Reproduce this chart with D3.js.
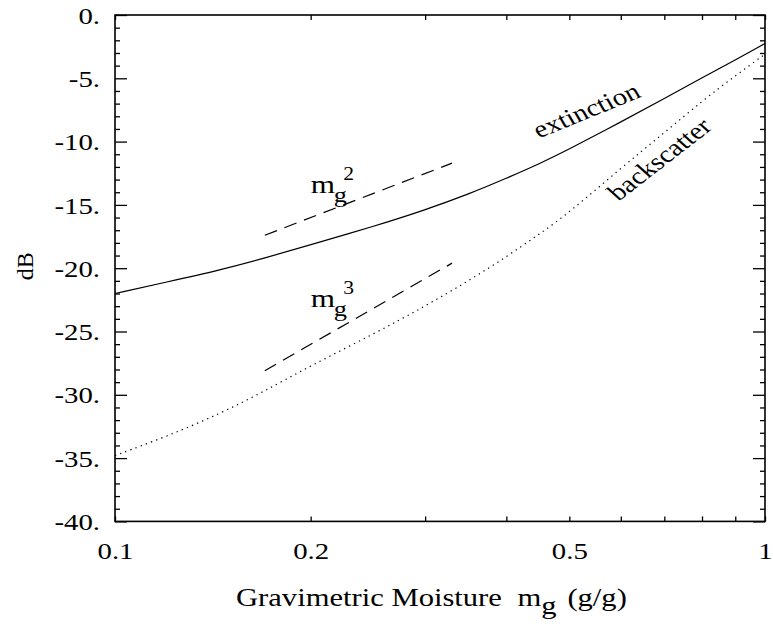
<!DOCTYPE html>
<html>
<head>
<meta charset="utf-8" />
<title>Extinction and backscatter vs moisture</title>
<style>
    body { margin: 0; background: #fff; }
    svg text { font-family: "Liberation Serif", "Times New Roman", serif; fill: #000; }
</style>
</head>
<body>
    <div id="container"></div>
<script src="https://cdn.jsdelivr.net/npm/d3@7"></script>
<script>
    // values
    const moisture = [0.1, 0.12, 0.145, 0.17, 0.2, 0.25, 0.3, 0.35, 0.4, 0.45, 0.5, 0.6, 0.7, 0.8, 0.9, 1.0]
    const extinction = [-22.0, -21.1, -20.15, -19.2, -18.15, -16.7, -15.4, -14.15, -12.9, -11.75, -10.6, -8.45, -6.6, -4.95, -3.55, -2.25]
    const backscatter = [-34.8, -33.3, -31.5, -29.7, -27.7, -25.2, -23.0, -21.0, -19.1, -17.3, -15.6, -12.1, -9.3, -6.8, -4.8, -3.1]

    // reference slopes (endpoints)
    const slope2 = [[0.17, -17.4], [0.33, -11.7]]
    const slope3 = [[0.17, -28.1], [0.33, -19.6]]

    const yMajor = [0, -5, -10, -15, -20, -25, -30, -35, -40]
    const xMajor = [0.1, 0.2, 0.5, 1]
    const xMinor = [0.3, 0.4, 0.6, 0.7, 0.8, 0.9]

    const margin = { top: 15, right: 8, bottom: 104.6, left: 115 }
    const width = 773 - margin.left - margin.right
    const height = 626 - margin.top - margin.bottom
    const sx = 1.2 // the original text is drawn a little wide

    let svg = d3.select('#container').append('svg').attr('width', 773).attr('height', 626)
    let chart = svg.append('g').attr('transform', `translate(${margin.left}, ${margin.top})`)

    let x = d3.scaleLog().domain([0.1, 1]).range([0, width])
    let y = d3.scaleLinear().domain([-40, 0]).range([height, 0])
    let yMinor = d3.range(-39, 0).filter(d => d % 5 !== 0)

    const fmtY = d => d + '.'
    const fmtX = d => d3.format('')(d)

    // axes with inward ticks
    chart.append('g').attr('class', 'yaxis').call(d3.axisLeft(y).tickValues(yMajor).tickSize(-12).tickFormat(fmtY))
    chart.append('g').call(d3.axisLeft(y).tickValues(yMinor).tickSize(-5).tickFormat(''))
    chart.append('g').attr('transform', `translate(${width},0)`).call(d3.axisRight(y).tickValues(yMajor).tickSize(-12).tickFormat(''))
    chart.append('g').attr('transform', `translate(${width},0)`).call(d3.axisRight(y).tickValues(yMinor).tickSize(-5).tickFormat(''))
    chart.append('g').attr('class', 'xaxis').attr('transform', `translate(0,${height})`)
        .call(d3.axisBottom(x).tickValues(xMajor).tickSize(-5).tickFormat(fmtX))
    chart.append('g').attr('transform', `translate(0,${height})`).call(d3.axisBottom(x).tickValues(xMinor).tickSize(-5).tickFormat(''))
    chart.append('g').call(d3.axisTop(x).tickValues(xMajor.concat(xMinor)).tickSize(-5).tickFormat(''))

    chart.selectAll('.domain').remove()
    chart.selectAll('.tick line').attr('stroke', '#000').attr('stroke-width', 1.3)
    chart.selectAll('.tick text').attr('font-size', 24).attr('font-family', null).attr('fill', '#000')
    chart.selectAll('.yaxis .tick text').attr('x', -15 / sx).attr('dy', '0.34em').attr('transform', `scale(${sx},1)`)
    chart.selectAll('.xaxis .tick text').attr('y', 38).attr('dy', null).attr('transform', `scale(${sx},1)`)

    chart.append('rect').attr('width', width).attr('height', height)
        .attr('fill', 'none').attr('stroke', '#000').attr('stroke-width', 1.6)

    // curves
    let line = d3.line().x(d => x(d[0])).y(d => y(d[1])).curve(d3.curveBasis)
    chart.append('path').attr('d', line(d3.zip(moisture, extinction)))
        .attr('fill', 'none').attr('stroke', '#000').attr('stroke-width', 1.2)
    chart.append('path').attr('d', line(d3.zip(moisture, backscatter)))
        .attr('fill', 'none').attr('stroke', '#000').attr('stroke-width', 1.2).attr('stroke-dasharray', '1.3,4.2')

    let straight = d3.line().x(d => x(d[0])).y(d => y(d[1]))
    ;[slope2, slope3].forEach(s => {
        chart.append('path').attr('d', straight(s))
            .attr('fill', 'none').attr('stroke', '#000').attr('stroke-width', 1.2).attr('stroke-dasharray', '13,8')
    })

    // curve labels
    chart.append('text').attr('font-size', 24).attr('text-anchor', 'middle')
        .attr('transform', `translate(${x(0.539)},${y(-8.1)}) scale(${sx},1) rotate(-26)`).text('extinction')
    chart.append('text').attr('font-size', 24).attr('text-anchor', 'middle')
        .attr('transform', `translate(${x(0.704)},${y(-11.85)}) scale(${sx},1) rotate(-43)`).text('backscatter')

    // power-law labels
    const powers = [{ p: '2', at: [0.2, -14.06] }, { p: '3', at: [0.2, -23.06] }]
    powers.forEach(o => {
        let t = chart.append('text').attr('font-size', 26)
            .attr('transform', `translate(${x(o.at[0])},${y(o.at[1])}) scale(${sx},1)`)
        t.append('tspan').text('m')
        t.append('tspan').attr('font-size', 22).attr('dx', -1).attr('dy', 9).text('g')
        t.append('tspan').attr('font-size', 18).attr('dx', -3).attr('dy', -22).text(o.p)
    })

    // axis titles
    svg.append('text').attr('font-size', 24).attr('text-anchor', 'middle')
        .attr('transform', `translate(33,${margin.top + height / 2 - 2}) rotate(-90)`).text('dB')

    let xt = svg.append('text').attr('font-size', 25.5).attr('transform', `translate(236,606) scale(${sx},1)`)
    xt.append('tspan').text('Gravimetric Moisture')
    xt.append('tspan').attr('dx', 13).text('m')
    xt.append('tspan').attr('dy', 8).text('g')
    xt.append('tspan').attr('dx', 9).attr('dy', -8).text('(g/g)')
</script>
</body>
</html>
